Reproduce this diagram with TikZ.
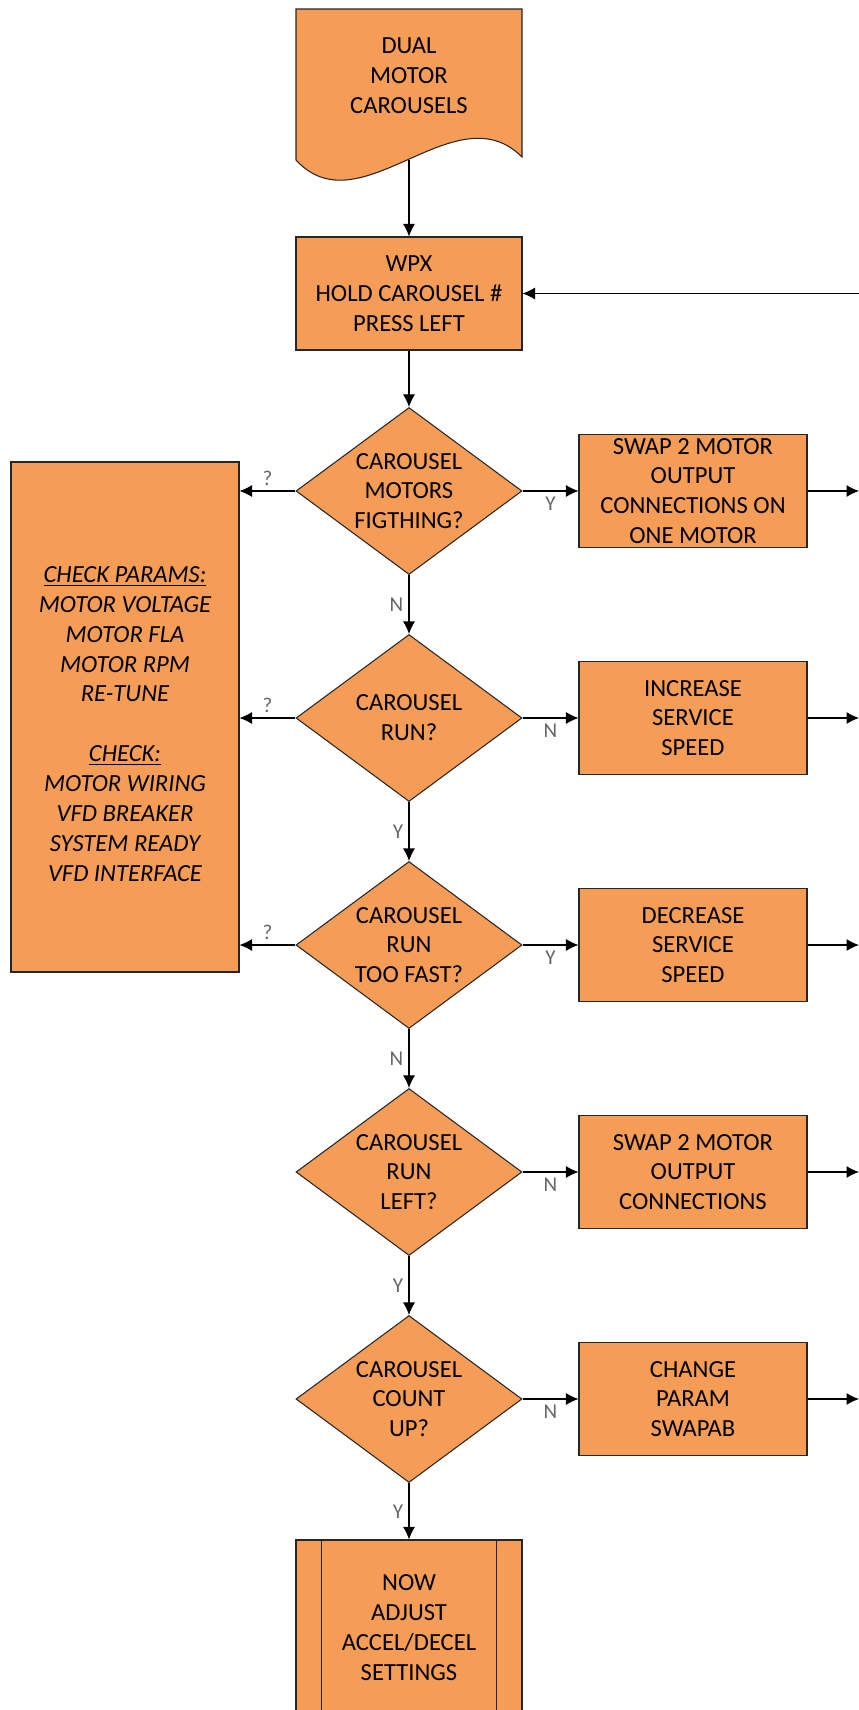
\documentclass[tikz,border=0pt]{standalone}
\usepackage{fontspec}
\setmainfont{Carlito}
\usetikzlibrary{shapes.geometric, arrows.meta}
\definecolor{boxorange}{RGB}{245,157,86}

\tikzset{
  box/.style = {draw=black!85, line width=.6pt, fill=boxorange, align=center,
    minimum width=4.56cm, minimum height=2.26cm, inner sep=2pt,
    font=\fontsize{14}{17}\selectfont},
  decision/.style = {diamond, aspect=1.35, draw=black!85, line width=.6pt,
    fill=boxorange, align=center, inner sep=0pt,
    minimum width=4.52cm, minimum height=3.34cm,
    font=\fontsize{14}{17}\selectfont},
  lbl/.style = {font=\fontsize{12}{14}\selectfont, text=black!60, inner sep=3pt},
}

\begin{document}
\begin{tikzpicture}[>={Latex[length=2.5mm,width=2.4mm]}, line width=.6pt]
  \useasboundingbox (0,0) rectangle (17.18,-34.2);
  \clip (0,0) rectangle (17.18,-34.2);

  % start document
  \filldraw[draw=black!85, fill=boxorange] (5.92,-3.2) -- (5.92,-0.18) -- (10.44,-0.18)
    -- (10.44,-3.14) .. controls (9.1,-1.8) and (7.2,-4.6) .. (5.92,-3.2) -- cycle;
  \node[font=\fontsize{14}{17}\selectfont, align=center] (dual) at (8.18,-1.52)
    {DUAL\\MOTOR\\CAROUSELS};
  \coordinate (dualb) at (8.18,-3.19);

  \node[box, minimum width=4.52cm] (wpx) at (8.18,-5.87) {WPX\\HOLD CAROUSEL \#\\PRESS LEFT};
  \coordinate (loop) at (17.18,-5.87);

  % decisions
  \node[decision] (fight) at (8.18,-9.82)  {CAROUSEL\\MOTORS\\FIGTHING?};
  \node[decision] (run)   at (8.18,-14.36) {CAROUSEL\\RUN?};
  \node[decision] (fast)  at (8.18,-18.9)  {CAROUSEL\\RUN\\TOO FAST?};
  \node[decision] (left)  at (8.18,-23.44) {CAROUSEL\\RUN\\LEFT?};
  \node[decision] (count) at (8.18,-27.98) {CAROUSEL\\COUNT\\UP?};

  % actions
  \node[box] (swapone) at (13.86,-9.82)  {SWAP 2 MOTOR\\OUTPUT\\CONNECTIONS ON\\ONE MOTOR};
  \node[box] (incr)    at (13.86,-14.36) {INCREASE\\SERVICE\\SPEED};
  \node[box] (decr)    at (13.86,-18.9)  {DECREASE\\SERVICE\\SPEED};
  \node[box] (swap)    at (13.86,-23.44) {SWAP 2 MOTOR\\OUTPUT\\CONNECTIONS};
  \node[box] (param)   at (13.86,-27.98) {CHANGE\\PARAM\\SWAPAB};

  \node[box, minimum height=10.2cm, font=\itshape\fontsize{14}{17}\selectfont] (check) at (2.5,-14.34)
    {\mbox{}\\\underline{CHECK PARAMS:}\\MOTOR VOLTAGE\\MOTOR FLA\\MOTOR RPM\\RE-TUNE\\[17pt]
     \underline{CHECK:}\\MOTOR WIRING\\VFD BREAKER\\SYSTEM READY\\VFD INTERFACE};

  \node[box, minimum width=4.52cm, minimum height=3.5cm] (adjust) at (8.18,-32.55)
    {NOW\\ADJUST\\ACCEL/DECEL\\SETTINGS};
  \draw[black!85] ([xshift=.52cm]adjust.north west) -- ([xshift=.52cm]adjust.south west);
  \draw[black!85] ([xshift=-.52cm]adjust.north east) -- ([xshift=-.52cm]adjust.south east);

  % main line
  \draw[->] (dualb) -- (wpx);
  \draw[->] (loop) -- (wpx);
  \draw[->] (wpx) -- (fight);
  \draw[->] (fight) -- node[lbl, left] {N} (run);
  \draw[->] (run) -- node[lbl, left] {Y} (fast);
  \draw[->] (fast) -- node[lbl, left] {N} (left);
  \draw[->] (left) -- node[lbl, left] {Y} (count);
  \draw[->] (count) -- node[lbl, left] {Y} (adjust);

  % to the check box
  \draw[->] (fight.west) -- node[lbl, above] {?} (fight.west -| check.east);
  \draw[->] (run.west)   -- node[lbl, above] {?} (run.west -| check.east);
  \draw[->] (fast.west)  -- node[lbl, above] {?} (fast.west -| check.east);

  % to the actions
  \draw[->] (fight) -- node[lbl, below] {Y} (swapone);
  \draw[->] (run)   -- node[lbl, below] {N} (incr);
  \draw[->] (fast)  -- node[lbl, below] {Y} (decr);
  \draw[->] (left)  -- node[lbl, below] {N} (swap);
  \draw[->] (count) -- node[lbl, below] {N} (param);

  % back out to the right
  \foreach \act in {swapone, incr, decr, swap, param}
    \draw[->] (\act) -- (\act -| loop);
\end{tikzpicture}
\end{document}
